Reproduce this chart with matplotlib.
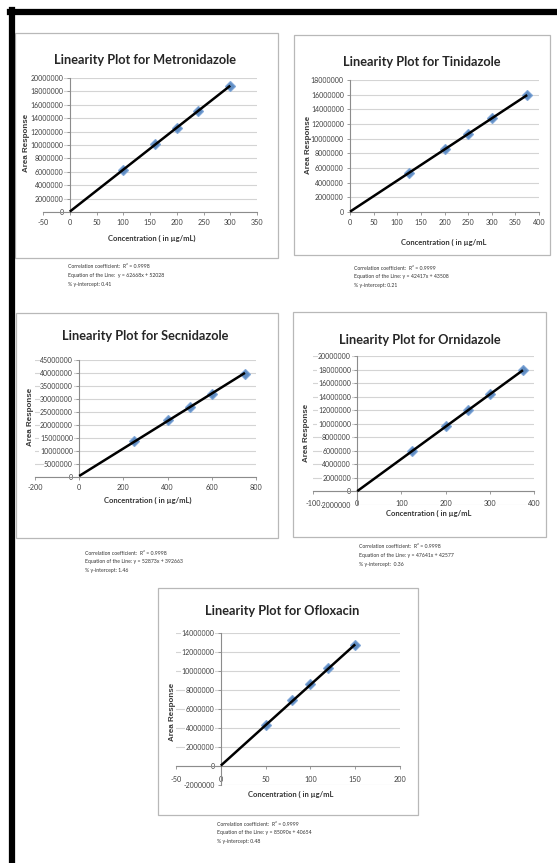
import matplotlib
matplotlib.use("Agg")
import matplotlib.pyplot as plt
from matplotlib.patches import Rectangle
from matplotlib.ticker import FuncFormatter, MultipleLocator

W, H = 557, 863

plt.rcParams["axes.unicode_minus"] = False
NARROW = ["Lato", "DejaVu Sans"]

# calibration data (concentration in ug/mL, peak area)
metro_conc = [100, 160, 200, 240, 300]
metro_area = [6340000, 10100000, 12600000, 15100000, 18850000]
metro_fit = (62668, 52028)

tini_conc = [125, 200, 250, 300, 375]
tini_area = [5350000, 8550000, 10650000, 12850000, 15950000]
tini_fit = (42417, 43508)

secni_conc = [250, 400, 500, 600, 750]
secni_area = [13800000, 21800000, 26800000, 31800000, 39600000]
secni_fit = (52873, 392663)

orni_conc = [125, 200, 250, 300, 375]
orni_area = [6000000, 9700000, 12000000, 14350000, 17900000]
orni_fit = (47641, 42577)

oflox_conc = [50, 80, 100, 120, 150]
oflox_area = [4350000, 7000000, 8650000, 10350000, 12700000]
oflox_fit = (85090, 40654)

notes = {
    "Metronidazole": ["Correlation coefficient:  R\u00b2 = 0.9998",
                      "Equation of the Line:  y = 62668x + 52028",
                      "% y-intercept: 0.41"],
    "Tinidazole": ["Correlation coefficient:  R\u00b2 = 0.9999",
                   "Equation of the Line: y = 42417x + 43508",
                   "% y-intercept: 0.21"],
    "Secnidazole": ["Correlation coefficient:  R\u00b2 = 0.9998",
                    "Equation of the Line: y = 52873x + 392663",
                    "% y-intercept: 1.46"],
    "Ornidazole": ["Correlation coefficient:  R\u00b2 = 0.9998",
                   "Equation of the Line: y = 47641x + 42577",
                   "% y-intercept:  0.36"],
    "Ofloxacin": ["Correlation coefficient:  R\u00b2 = 0.9999",
                  "Equation of the Line: y = 85090x + 40654",
                  "% y-intercept: 0.48"],
}


def fx(x):
    return x / W


def fy(y):
    return 1 - y / H


def rect(x0, y0, x1, y1):
    return [fx(x0), fy(y1), (x1 - x0) / W, (y1 - y0) / H]


fig = plt.figure(figsize=(W / 100, H / 100), dpi=100)

# page border (left and top only)
fig.add_artist(plt.Line2D([fx(11.5), fx(11.5)], [fy(10), 0], color="black", lw=4.5))
fig.add_artist(plt.Line2D([fx(9.5), 1], [fy(12.5), fy(12.5)], color="black", lw=4.5))

# plot box and frame are in pixels from the top-left corner
panels = [
    dict(name="Metronidazole", conc=metro_conc, area=metro_area, fit=metro_fit,
         box=(43, 78, 257, 212), frame=(15, 33, 278, 258),
         xlim=(-50, 350), xstep=50, ylim=(0, 20000000), ystep=2000000,
         title=(145, 60), ylab=(27, 143), xlab=(152, 238), xpad=2.5,
         xtext="Concentration ( in \u00b5g/mL)", note=(68, 267)),
    dict(name="Tinidazole", conc=tini_conc, area=tini_area, fit=tini_fit,
         box=(350, 80, 539, 212), frame=(294, 35, 550, 255),
         xlim=(0, 400), xstep=50, ylim=(0, 18000000), ystep=2000000,
         title=(422, 62), ylab=(309, 145), xlab=(444, 242), xpad=2.5,
         xtext="Concentration ( in \u00b5g/mL", note=(354, 268)),
    dict(name="Secnidazole", conc=secni_conc, area=secni_area, fit=secni_fit,
         box=(35, 360, 256, 477), frame=(16, 313, 278, 538),
         xlim=(-200, 800), xstep=200, ylim=(0, 45000000), ystep=5000000,
         title=(145, 336), ylab=(30, 417), xlab=(148, 500), xpad=2.5,
         xtext="Concentration ( in \u00b5g/mL)", note=(85, 553)),
    dict(name="Ornidazole", conc=orni_conc, area=orni_area, fit=orni_fit,
         box=(313, 356, 534, 505), frame=(293, 312, 546, 537),
         xlim=(-100, 400), xstep=100, ylim=(-2000000, 20000000), ystep=2000000,
         title=(420, 340), ylab=(307, 433), xlab=(429, 513), xpad=4,
         xtext="Concentration ( in \u00b5g/mL", note=(359, 547)),
    dict(name="Ofloxacin", conc=oflox_conc, area=oflox_area, fit=oflox_fit,
         box=(176, 633, 400, 785), frame=(158, 588, 418, 815),
         xlim=(-50, 200), xstep=50, ylim=(-2000000, 14000000), ystep=2000000,
         title=(282, 611), ylab=(172, 712), xlab=(291, 794), xpad=5,
         xtext="Concentration ( in \u00b5g/mL", note=(217, 824)),
]

label_box = dict(fc="white", ec="none", pad=0.4)

for p in panels:
    fx0, fy0, fx1, fy1 = p["frame"]
    fig.add_artist(Rectangle((fx(fx0), fy(fy1)), (fx1 - fx0) / W, (fy1 - fy0) / H,
                             transform=fig.transFigure, fill=False,
                             ec="#b8b8b8", lw=0.9))

    ax = fig.add_axes(rect(*p["box"]))
    ax.set_xlim(*p["xlim"])
    ax.set_ylim(*p["ylim"])
    ax.xaxis.set_major_locator(MultipleLocator(p["xstep"]))
    ax.yaxis.set_major_locator(MultipleLocator(p["ystep"]))
    fmt = FuncFormatter(lambda v, pos: f"{v:.0f}")
    ax.xaxis.set_major_formatter(fmt)
    ax.yaxis.set_major_formatter(fmt)

    for side in ("top", "right"):
        ax.spines[side].set_visible(False)
    ax.spines["left"].set_position(("data", 0))
    ax.spines["bottom"].set_position(("data", 0))
    for side in ("left", "bottom"):
        ax.spines[side].set_color("#8c8c8c")
        ax.spines[side].set_linewidth(0.8)
    ax.patch.set_visible(False)

    ax.grid(axis="y", color="#d4d4d4", lw=0.8)
    ax.grid(axis="x", visible=False)
    ax.set_axisbelow(True)
    # x labels drawn after the y labels so their boxes stay on top
    ax.xaxis.set_zorder(1.0)
    ax.tick_params(length=2.5, width=0.6, color="#8c8c8c", labelsize=5.0,
                   labelcolor="#404040", pad=2)
    ax.tick_params(axis="x", labelsize=5.2, pad=p["xpad"])
    for lab in ax.get_xticklabels() + ax.get_yticklabels():
        lab.set_family(NARROW)
        lab.set_bbox(label_box)

    slope, icpt = p["fit"]
    xmax = max(p["conc"])
    ax.plot(p["conc"], p["area"], "D", color="#4f81bd", ms=4.6, mec="#7aa3d6",
            mew=0.9, alpha=0.9, zorder=3, clip_on=False)
    ax.plot([0, xmax], [icpt, slope * xmax + icpt], color="black", lw=1.8,
            zorder=4, solid_capstyle="butt", clip_on=False)

    tx, ty = p["title"]
    fig.text(fx(tx), fy(ty), f"Linearity Plot for {p['name']}", ha="center",
             va="center", fontsize=9.2, fontweight="bold", family=NARROW,
             color="#262626")
    lx, ly = p["ylab"]
    fig.text(fx(lx), fy(ly), "Area Response", rotation=90, ha="center",
             va="center", fontsize=5.8, fontweight="bold",
             family=["Liberation Sans", "DejaVu Sans"], color="#3a3a3a")
    cx, cy = p["xlab"]
    fig.text(fx(cx), fy(cy), p["xtext"], ha="center", va="center",
             fontsize=5.5, fontweight="bold", family=NARROW, color="#333333")
    nx, ny = p["note"]
    for i, line in enumerate(notes[p["name"]]):
        fig.text(fx(nx), fy(ny + i * 8.7), line, ha="left", va="center",
                 fontsize=3.7, family=NARROW, color="#333333")

fig.savefig("out.png", dpi=100, facecolor="white")
